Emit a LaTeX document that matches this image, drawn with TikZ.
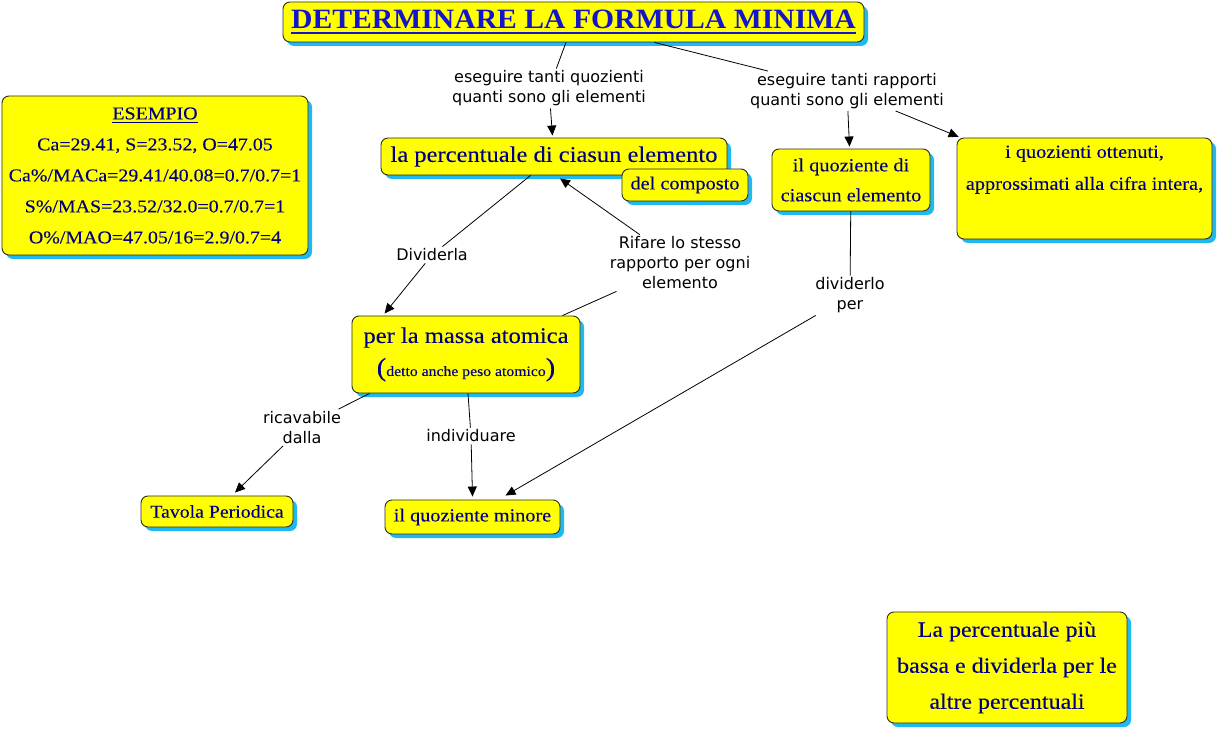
\documentclass[tikz,border=0pt]{standalone}
\usepackage{fontspec}
\usetikzlibrary{arrows.meta,shadows}
\newfontfamily\bx[FakeStretch=1.1,FakeBold=0.12]{Liberation Serif}
\newfontfamily\ttlfont[FakeStretch=1.06]{Liberation Serif}
\newfontfamily\lk{DejaVu Sans}
\definecolor{cyel}{RGB}{255,255,0}
\definecolor{cshadow}{RGB}{30,185,240}
\definecolor{cnavy}{RGB}{0,0,128}
\definecolor{ctitle}{RGB}{20,20,200}
\definecolor{cborder}{RGB}{45,45,45}
\newcommand\thul[3]{\leavevmode\vtop{\hbox{#1}\kern#2\hrule height #3}}
\begin{document}
\begin{tikzpicture}[x=1pt,y=-1pt,
  concept/.style={draw=cborder, line width=0.9pt, fill=cyel, rounded corners=7pt,
    drop shadow={shadow xshift=4pt,shadow yshift=-4pt,fill=cshadow,opacity=1},
    text=cnavy, align=center, inner sep=0pt},
  lnk/.style={font=\lk\fontsize{16}{20}\selectfont, align=center, inner sep=2pt, text=black},
  ln/.style={line width=0.8pt, draw=black},
  arr/.style={ln, -{Triangle[length=10pt,width=9pt]}}]
\useasboundingbox (0,0) rectangle (1219,730);
\fill[white] (0,0) rectangle (1219,730);

% concepts
\node[concept, minimum width=581pt, minimum height=40pt, text=ctitle,
  font=\ttlfont\bfseries\fontsize{28}{30}\selectfont] (title) at (573.5,22)
  {\thul{DETERMINARE LA FORMULA MINIMA}{3.5pt}{1.6pt}};
\node[concept, minimum width=306pt, minimum height=159pt,
  font=\bx\fontsize{18.1}{31}\selectfont] (esempio) at (155,175.5)
  {\thul{ESEMPIO}{2.5pt}{1.1pt}\\Ca=29.41, S=23.52, O=47.05\\Ca\%/MACa=29.41/40.08=0.7/0.7=1\\S\%/MAS=23.52/32.0=0.7/0.7=1\\O\%/MAO=47.05/16=2.9/0.7=4};
\node[concept, minimum width=346pt, minimum height=37pt,
  font=\bx\fontsize{22.3}{24}\selectfont] (perc) at (554,156.5)
  {la percentuale di ciasun elemento};
\node[concept, minimum width=126pt, minimum height=32pt,
  font=\bx\fontsize{18.5}{20}\selectfont] (comp) at (685,185)
  {del composto};
\node[concept, minimum width=158pt, minimum height=62pt,
  font=\bx\fontsize{18.5}{30}\selectfont] (quoz) at (851,180)
  {il quoziente di\\ciascun elemento};
\node[concept, minimum width=255pt, minimum height=101pt,
  font=\bx\fontsize{18.5}{32}\selectfont] (quozot) at (1084.5,188.5)
  {i quozienti ottenuti,\\approssimati alla cifra intera,\\\strut};
\node[concept, minimum width=228pt, minimum height=77pt,
  font=\bx\fontsize{22.3}{24}\selectfont] (massa) at (466,354.5)
  {per la massa atomica\\[9pt]{\fontsize{26}{26}\selectfont(}{\fontsize{14.3}{14}\selectfont detto anche peso atomico}{\fontsize{26}{26}\selectfont)}};
\node[concept, minimum width=152pt, minimum height=31pt,
  font=\bx\fontsize{18}{20}\selectfont] (tavola) at (217,511.5)
  {Tavola Periodica};
\node[concept, minimum width=175pt, minimum height=34pt,
  font=\bx\fontsize{18.4}{20}\selectfont] (minore) at (472.5,517)
  {il quoziente minore};
\node[concept, minimum width=240pt, minimum height=111pt,
  font=\bx\fontsize{21.8}{36}\selectfont] (bassa) at (1007,667.5)
  {La percentuale più\\bassa e dividerla per le\\altre percentuali};

% linking phrases
\node[lnk] (p1) at (549,88.5) {eseguire tanti quozienti\\quanti sono gli elementi};
\node[lnk] (p2) at (847,91) {eseguire tanti rapporti\\quanti sono gli elementi};
\node[lnk] (div) at (432,255) {Dividerla};
\node[lnk] (rif) at (680,263) {Rifare lo stesso\\rapporto per ogni\\elemento};
\node[lnk] (dvp) at (850,295.5) {dividerlo\\per};
\node[lnk] (ric) at (302,427.5) {ricavabile\\dalla};
\node[lnk] (ind) at (471,436) {individuare};

% connectors
\draw[ln] (title) -- (p1);
\draw[arr, shorten >=2pt] (p1) -- (perc);
\draw[ln] (title) -- (p2);
\draw[arr, shorten >=2pt] (p2) -- (quoz);
\draw[arr, shorten >=2pt] (p2) -- (quozot);
\draw[ln] (perc) -- (div);
\draw[arr] (div) -- ([xshift=33pt,yshift=2pt]massa.north west);
\draw[ln] ([xshift=-18pt]massa.north east) -- (rif);
\draw[arr] (rif) -- ([xshift=6pt,yshift=-3pt]perc.south);
\draw[ln] (quoz) -- (dvp);
\draw[arr] (dvp) -- ([xshift=33pt,yshift=4pt]minore.north);
\draw[ln] ([xshift=18pt]massa.south west) -- (ric);
\draw[arr] (ric) -- ([xshift=18pt,yshift=3pt]tavola.north);
\draw[ln] ([xshift=2pt]massa.south) -- (ind);
\draw[arr] (ind) -- ([yshift=3pt]minore.north);
\end{tikzpicture}
\end{document}
